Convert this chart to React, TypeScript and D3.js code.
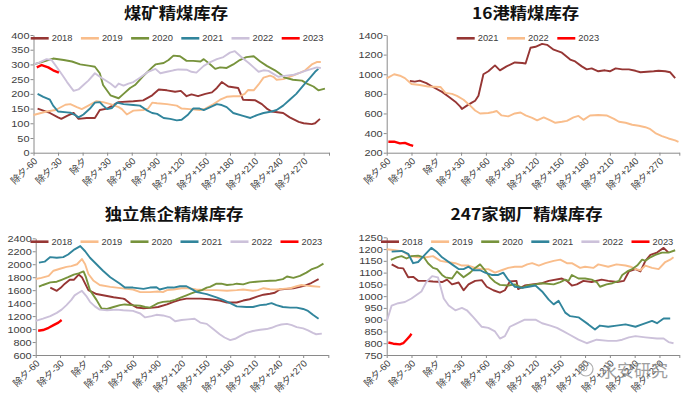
import React, { useEffect, useRef } from 'react';
import * as d3 from 'd3';

type Pt = [number, number];

// x axis: days relative to 除夕
const tickDays = [-60, -30, 0, 30, 60, 90, 120, 150, 180, 210, 240, 270];
const tickLabels = ['除夕-60', '除夕-30', '除夕', '除夕+30', '除夕+60', '除夕+90', '除夕+120', '除夕+150', '除夕+180', '除夕+210', '除夕+240', '除夕+270'];

// 煤矿精煤库存
const mine2018: Pt[] = [[-55,150],[-40,135],[-30,120],[-26,115],[-19,125],[-11,135],[-5,115],[5,118],[15,118],[21,145],[30,150],[44,172],[62,175],[74,178],[85,195],[93,215],[103,212],[113,207],[120,210],[127,192],[133,198],[141,192],[150,200],[158,205],[164,220],[170,240],[178,225],[190,220],[196,180],[211,178],[219,165],[225,150],[231,140],[245,135],[253,120],[264,105],[270,100],[280,97],[284,100],[290,115]];
const mine2019: Pt[] = [[-60,128],[-44,140],[-33,145],[-21,163],[-15,165],[-7,155],[-1,148],[7,160],[17,175],[25,172],[34,165],[44,155],[48,148],[54,130],[62,143],[74,145],[80,150],[85,170],[91,168],[103,165],[115,160],[121,150],[131,148],[143,145],[150,150],[160,165],[168,180],[176,190],[184,192],[192,192],[198,200],[202,213],[209,212],[215,232],[221,255],[229,262],[233,258],[237,248],[245,250],[253,258],[260,265],[268,275],[272,280],[280,300],[286,308],[291,308]];
const mine2020: Pt[] = [[-60,300],[-50,308],[-36,320],[-23,315],[-13,310],[-3,300],[9,295],[15,292],[21,270],[25,230],[34,195],[44,185],[50,200],[58,220],[64,230],[74,260],[85,290],[89,300],[99,305],[105,315],[111,330],[119,328],[127,312],[135,312],[144,310],[148,318],[156,300],[162,285],[168,290],[176,288],[184,300],[192,315],[200,325],[209,328],[217,310],[225,295],[235,280],[241,268],[247,255],[257,248],[268,245],[274,235],[282,225],[288,212],[296,218]];
const mine2021: Pt[] = [[-55,200],[-48,190],[-40,180],[-36,160],[-30,140],[-19,137],[-15,136],[-9,128],[-5,120],[1,130],[9,150],[15,170],[21,172],[25,160],[30,148],[36,152],[42,170],[50,165],[62,162],[70,160],[78,145],[85,135],[91,132],[99,118],[107,115],[115,110],[121,112],[129,130],[135,150],[143,150],[148,145],[156,155],[164,165],[170,162],[176,155],[184,135],[196,125],[205,118],[213,128],[221,135],[231,140],[237,145],[245,160],[253,180],[261,200],[270,230],[278,255],[284,275],[288,285]];
const mine2022: Pt[] = [[-60,300],[-54,305],[-44,318],[-38,315],[-34,300],[-25,265],[-19,240],[-11,210],[-5,215],[1,230],[7,245],[15,270],[21,258],[34,235],[40,222],[44,235],[50,228],[56,235],[62,240],[70,255],[80,275],[89,285],[95,270],[103,275],[111,280],[117,283],[127,282],[133,275],[139,272],[148,295],[154,305],[164,318],[172,325],[180,340],[186,345],[196,320],[203,305],[209,290],[215,275],[221,280],[227,278],[233,268],[239,258],[249,262],[258,265],[266,272],[272,278],[280,285],[286,290],[291,288]];
const mine2023: Pt[] = [[-56,290],[-50,298],[-42,290],[-36,280],[-29,272]];

// 16港精煤库存
const port2021: Pt[] = [[-32,931],[-26,925],[-20,935],[-12,910],[-4,870],[7,820],[15,770],[23,720],[29,670],[31,645],[37,680],[43,710],[47,730],[51,780],[57,1000],[63,1030],[71,1090],[77,1040],[85,1080],[95,1120],[104,1115],[108,1110],[114,1270],[120,1280],[128,1310],[134,1300],[142,1250],[152,1220],[162,1150],[168,1130],[176,1080],[182,1050],[188,1060],[196,1030],[204,1040],[210,1030],[217,1060],[225,1050],[233,1050],[241,1035],[247,1020],[255,1025],[263,1030],[269,1035],[277,1030],[283,1020],[289,960]];
const port2022: Pt[] = [[-60,958],[-51,1000],[-44,985],[-38,960],[-30,900],[-20,890],[-10,875],[5,870],[11,810],[19,800],[25,780],[33,740],[41,680],[47,630],[53,600],[63,605],[69,615],[73,625],[79,580],[87,570],[95,600],[102,610],[108,580],[116,555],[122,530],[130,560],[138,530],[144,505],[152,515],[158,525],[166,560],[172,575],[178,535],[186,580],[196,585],[206,580],[215,545],[221,515],[229,505],[237,485],[245,475],[253,460],[259,440],[265,400],[273,370],[281,345],[289,325],[293,310]];
const port2023: Pt[] = [[-58,312],[-51,312],[-44,295],[-38,300],[-32,280],[-28,270]];

// 独立焦企精煤库存
const coke2018: Pt[] = [[-42,1640],[-34,1590],[-28,1650],[-24,1700],[-18,1760],[-13,1760],[-7,1840],[-3,1800],[5,1600],[15,1540],[28,1510],[36,1490],[48,1470],[50,1460],[58,1380],[65,1330],[73,1320],[85,1330],[91,1340],[102,1380],[110,1420],[118,1450],[126,1470],[143,1470],[155,1460],[167,1440],[176,1410],[188,1410],[196,1440],[204,1460],[213,1500],[221,1530],[229,1545],[235,1560],[241,1610],[250,1620],[258,1630],[266,1650],[272,1670],[280,1710],[289,1770]];
const coke2019: Pt[] = [[-60,1773],[-53,1790],[-44,1820],[-38,1900],[-30,1930],[-22,1960],[-16,1970],[-9,2000],[-3,2080],[1,2000],[5,1850],[11,1750],[19,1680],[32,1650],[40,1640],[52,1620],[60,1610],[69,1570],[81,1570],[91,1580],[97,1570],[102,1600],[110,1610],[120,1630],[128,1630],[138,1610],[151,1600],[163,1600],[176,1590],[188,1600],[196,1610],[208,1590],[214,1600],[221,1630],[229,1615],[237,1610],[245,1620],[254,1630],[262,1660],[268,1680],[274,1670],[282,1660],[291,1650]];
const coke2020: Pt[] = [[-56,1655],[-51,1680],[-42,1720],[-34,1730],[-28,1760],[-20,1800],[-13,1840],[-7,1860],[-1,1890],[2,1800],[7,1600],[15,1450],[21,1320],[28,1310],[36,1340],[44,1370],[50,1380],[58,1370],[69,1360],[75,1340],[81,1330],[85,1360],[91,1400],[97,1420],[106,1430],[112,1450],[118,1480],[126,1520],[132,1550],[139,1580],[145,1600],[151,1640],[155,1650],[163,1700],[169,1700],[176,1680],[184,1690],[188,1700],[196,1690],[204,1720],[212,1730],[221,1740],[229,1745],[237,1750],[245,1770],[250,1810],[258,1790],[266,1820],[274,1870],[280,1920],[287,1950],[295,2010]];
const coke2021: Pt[] = [[-56,2025],[-49,2040],[-42,2110],[-34,2100],[-26,2110],[-20,2150],[-12,2230],[-5,2280],[1,2200],[7,2100],[15,2000],[23,1900],[32,1800],[38,1750],[44,1700],[50,1640],[60,1640],[73,1620],[81,1640],[89,1645],[93,1610],[102,1640],[110,1640],[118,1660],[126,1660],[132,1620],[139,1570],[151,1540],[163,1490],[171,1450],[180,1400],[188,1350],[200,1340],[208,1340],[217,1370],[225,1380],[231,1400],[237,1370],[245,1340],[254,1330],[262,1330],[270,1310],[276,1280],[282,1220],[289,1160]];
const coke2022: Pt[] = [[-60,1125],[-51,1160],[-42,1200],[-34,1250],[-28,1300],[-22,1370],[-16,1450],[-12,1520],[-7,1560],[-3,1590],[3,1500],[7,1420],[13,1350],[19,1300],[28,1290],[40,1300],[48,1290],[60,1280],[69,1240],[75,1180],[83,1200],[89,1220],[97,1210],[106,1180],[112,1120],[120,1140],[128,1150],[136,1160],[143,1100],[151,1080],[159,1000],[167,920],[173,870],[180,830],[186,850],[192,890],[200,940],[208,970],[217,990],[225,1000],[231,1020],[237,1050],[243,1070],[250,1080],[256,1060],[262,1030],[270,1010],[276,980],[282,940],[286,920],[293,930]];
const coke2023: Pt[] = [[-57,975],[-51,985],[-44,1020],[-38,1060],[-32,1100],[-28,1140]];

// 247家钢厂精煤库存
const mill2018: Pt[] = [[-54,1135],[-46,1120],[-40,1118],[-34,1080],[-28,1082],[-22,1065],[-14,1065],[-4,1062],[7,1060],[13,1070],[19,1050],[27,1058],[33,1025],[39,1050],[47,1065],[55,1068],[61,1040],[69,1025],[77,1015],[83,1025],[89,1062],[97,1065],[99,1030],[107,1045],[116,1050],[128,1055],[136,1065],[152,1075],[158,1065],[164,1045],[170,1050],[178,1065],[188,1060],[200,1070],[208,1065],[219,1060],[227,1065],[233,1105],[241,1115],[247,1105],[253,1150],[259,1175],[267,1185],[275,1205],[281,1185]];
const mill2019: Pt[] = [[-60,1199],[-50,1195],[-40,1190],[-32,1170],[-22,1165],[-12,1165],[-4,1170],[5,1150],[13,1145],[23,1140],[31,1130],[39,1130],[47,1120],[55,1115],[63,1115],[71,1100],[79,1110],[87,1120],[95,1125],[104,1125],[110,1135],[116,1140],[124,1130],[132,1140],[142,1150],[150,1155],[158,1140],[164,1140],[174,1120],[180,1125],[190,1120],[196,1135],[208,1125],[218,1135],[229,1130],[235,1125],[241,1115],[247,1110],[253,1130],[261,1120],[269,1115],[277,1145],[283,1155],[287,1165]];
const mill2020: Pt[] = [[-55,1154],[-48,1165],[-42,1170],[-36,1160],[-30,1170],[-22,1172],[-15,1165],[-10,1140],[-4,1120],[1,1115],[7,1090],[11,1080],[19,1075],[25,1105],[33,1080],[41,1100],[47,1120],[53,1135],[59,1110],[65,1080],[71,1060],[77,1048],[87,1045],[95,1050],[104,1035],[110,1045],[120,1050],[128,1055],[142,1050],[150,1060],[156,1070],[160,1065],[164,1090],[172,1075],[180,1075],[188,1070],[194,1060],[198,1040],[206,1050],[213,1055],[221,1065],[225,1090],[231,1105],[237,1115],[243,1130],[249,1155],[253,1150],[259,1165],[265,1175],[273,1185],[281,1185],[289,1195]];
const mill2021: Pt[] = [[-54,1189],[-42,1192],[-34,1180],[-28,1140],[-22,1145],[-14,1175],[-6,1205],[0,1190],[7,1165],[13,1150],[19,1135],[27,1115],[33,1115],[39,1125],[45,1110],[53,1110],[59,1100],[67,1090],[75,1090],[81,1100],[87,1070],[95,1040],[104,1035],[112,1040],[120,1045],[128,1020],[136,985],[142,965],[148,980],[156,930],[162,915],[172,910],[184,880],[192,858],[198,875],[208,870],[218,875],[229,880],[241,870],[249,880],[261,895],[267,885],[275,905],[283,905]];
const mill2022: Pt[] = [[-60,892],[-54,960],[-46,970],[-38,975],[-30,990],[-24,1005],[-18,1020],[-12,1060],[-5,1085],[2,1080],[9,990],[15,960],[23,940],[31,950],[37,940],[45,910],[55,870],[63,865],[71,850],[77,820],[83,830],[89,870],[95,880],[107,900],[120,900],[128,885],[138,875],[146,865],[154,850],[162,835],[172,815],[182,800],[194,815],[208,810],[218,810],[225,815],[233,825],[241,830],[253,825],[267,820],[275,820],[281,805],[287,800]];
const mill2023: Pt[] = [[-58,803],[-52,798],[-44,795],[-40,800],[-36,815],[-32,830],[-30,840]];

const C18 = '#963634';
const C19 = '#F9BD8B';
const C20 = '#77933C';
const C21 = '#31859C';
const C22 = '#CCC1DA';
const C23 = '#FF0000';

const panels = [
    {
        title: '煤矿精煤库存', titleX: 176, titleY: 19,
        left: 33.5, right: 329, top: 35, bottom: 152.7, xEnd: 301,
        yDomain: [0, 400], yStep: 50,
        legendX: 30.7, legendY: 38.3, legendGap: 50.2,
        series: [
            { name: '2018', data: mine2018, color: C18 },
            { name: '2019', data: mine2019, color: C19 },
            { name: '2020', data: mine2020, color: C20 },
            { name: '2021', data: mine2021, color: C21 },
            { name: '2022', data: mine2022, color: C22 },
            { name: '2023', data: mine2023, color: C23 },
        ],
    },
    {
        title: '16港精煤库存', titleX: 525.5, titleY: 19,
        left: 386.7, right: 679.3, top: 35, bottom: 152.7, xEnd: 294,
        yDomain: [200, 1400], yStep: 200,
        legendX: 456.7, legendY: 38.3, legendGap: 50.3,
        series: [
            { name: '2021', data: port2021, color: C18 },
            { name: '2022', data: port2022, color: C19 },
            { name: '2023', data: port2023, color: C23 },
        ],
    },
    {
        title: '独立焦企精煤库存', titleX: 174, titleY: 220,
        left: 35.7, right: 328.3, top: 238.3, bottom: 355, xEnd: 301,
        yDomain: [600, 2400], yStep: 200,
        legendX: 30.5, legendY: 241.7, legendGap: 50,
        series: [
            { name: '2018', data: coke2018, color: C18 },
            { name: '2019', data: coke2019, color: C19 },
            { name: '2020', data: coke2020, color: C20 },
            { name: '2021', data: coke2021, color: C21 },
            { name: '2022', data: coke2022, color: C22 },
            { name: '2023', data: coke2023, color: C23 },
        ],
    },
    {
        title: '247家钢厂精煤库存', titleX: 526.5, titleY: 220,
        left: 386.7, right: 679.3, top: 237.3, bottom: 355, xEnd: 294,
        yDomain: [750, 1250], yStep: 50,
        legendX: 381, legendY: 241.7, legendGap: 50.1,
        series: [
            { name: '2018', data: mill2018, color: C18 },
            { name: '2019', data: mill2019, color: C19 },
            { name: '2020', data: mill2020, color: C20 },
            { name: '2021', data: mill2021, color: C21 },
            { name: '2022', data: mill2022, color: C22 },
            { name: '2023', data: mill2023, color: C23 },
        ],
    },
];

const FONT = '"Liberation Sans", Arial, "Noto Sans CJK SC", sans-serif';
const AXIS = '#8a8a8a';
const LABEL = '#404040';

const App = () => {
    const ref = useRef<SVGSVGElement>(null);

    useEffect(() => {
        const svg = d3.select(ref.current);
        svg.selectAll('*').remove();
        svg.append('rect').attr('width', 691).attr('height', 399).attr('fill', '#fff');

        panels.forEach(p => {
            const g = svg.append('g');
            const x = d3.scaleLinear().domain([-60, p.xEnd]).range([p.left, p.right]);
            const y = d3.scaleLinear().domain(p.yDomain).range([p.bottom, p.top]);
            const yTicks = d3.range(p.yDomain[0], p.yDomain[1] + 1, p.yStep);

            // y axis
            const ya = g.append('g')
                .attr('transform', 'translate(' + p.left + ',0)')
                .call(d3.axisLeft(y).tickValues(yTicks).tickSize(3).tickSizeOuter(0).tickFormat(d3.format('d')));
            ya.select('.domain').attr('stroke', AXIS);
            ya.selectAll('line').attr('stroke', AXIS);
            ya.selectAll('text')
                .attr('x', 0)
                .attr('transform', 'translate(-4,0) scale(1.15,1)')
                .attr('fill', LABEL)
                .style('font-family', FONT)
                .style('font-size', '9.5px');

            // x axis
            const xa = g.append('g')
                .attr('transform', 'translate(0,' + p.bottom + ')')
                .call(d3.axisBottom(x)
                    .tickValues([...tickDays, p.xEnd])
                    .tickSize(3)
                    .tickSizeOuter(0)
                    .tickFormat((d, i) => tickLabels[i] ?? ''));
            xa.select('.domain').attr('stroke', AXIS);
            xa.selectAll('line').attr('stroke', AXIS);
            xa.selectAll('text')
                .attr('x', 0)
                .attr('y', 0)
                .attr('dy', 0)
                .attr('text-anchor', 'end')
                .attr('transform', 'translate(4,9) rotate(-45)')
                .attr('fill', LABEL)
                .style('font-family', FONT)
                .style('font-size', '9.5px');

            // lines
            const line = d3.line<Pt>().x(d => x(d[0])).y(d => y(d[1]));
            p.series.forEach(s => {
                g.append('path')
                    .datum(s.data)
                    .attr('d', line)
                    .attr('fill', 'none')
                    .attr('stroke', s.color)
                    .attr('stroke-width', s.name === '2023' ? 2.4 : 1.9)
                    .attr('stroke-linejoin', 'round');
            });

            // legend
            p.series.forEach((s, i) => {
                const lx = p.legendX + i * p.legendGap;
                g.append('line')
                    .attr('x1', lx).attr('x2', lx + 18)
                    .attr('y1', p.legendY).attr('y2', p.legendY)
                    .attr('stroke', s.color)
                    .attr('stroke-width', 2.6);
                g.append('text')
                    .attr('transform', 'translate(' + (lx + 21) + ',' + (p.legendY + 3) + ') scale(1.1,1)')
                    .text(s.name)
                    .attr('fill', LABEL)
                    .style('font-family', FONT)
                    .style('font-size', '8.5px');
            });

            // title
            g.append('text')
                .attr('transform', 'translate(' + p.titleX + ',' + p.titleY + ') scale(1.12,1)')
                .attr('text-anchor', 'middle')
                .text(p.title)
                .attr('fill', '#111')
                .style('font-family', '"Noto Sans CJK SC", sans-serif')
                .style('font-weight', 'bold')
                .style('font-size', '15.5px');
        });

        // watermark
        const wm = svg.append('g').attr('opacity', 0.8);
        wm.append('circle').attr('cx', 586).attr('cy', 369).attr('r', 7)
            .attr('fill', 'none').attr('stroke', '#999').attr('stroke-width', 1.2);
        wm.append('circle').attr('cx', 584).attr('cy', 368).attr('r', 3)
            .attr('fill', 'none').attr('stroke', '#999').attr('stroke-width', 1);
        wm.append('text')
            .attr('x', 600).attr('y', 377)
            .text('永安研究')
            .attr('fill', '#888')
            .style('font-family', '"Noto Sans CJK SC", sans-serif')
            .style('font-size', '17px');
    });

    return (
        <svg ref={ref} width={691} height={399}
            style={{ position: 'absolute', left: 0, top: 0 }}></svg>
    );
};

export default App;
